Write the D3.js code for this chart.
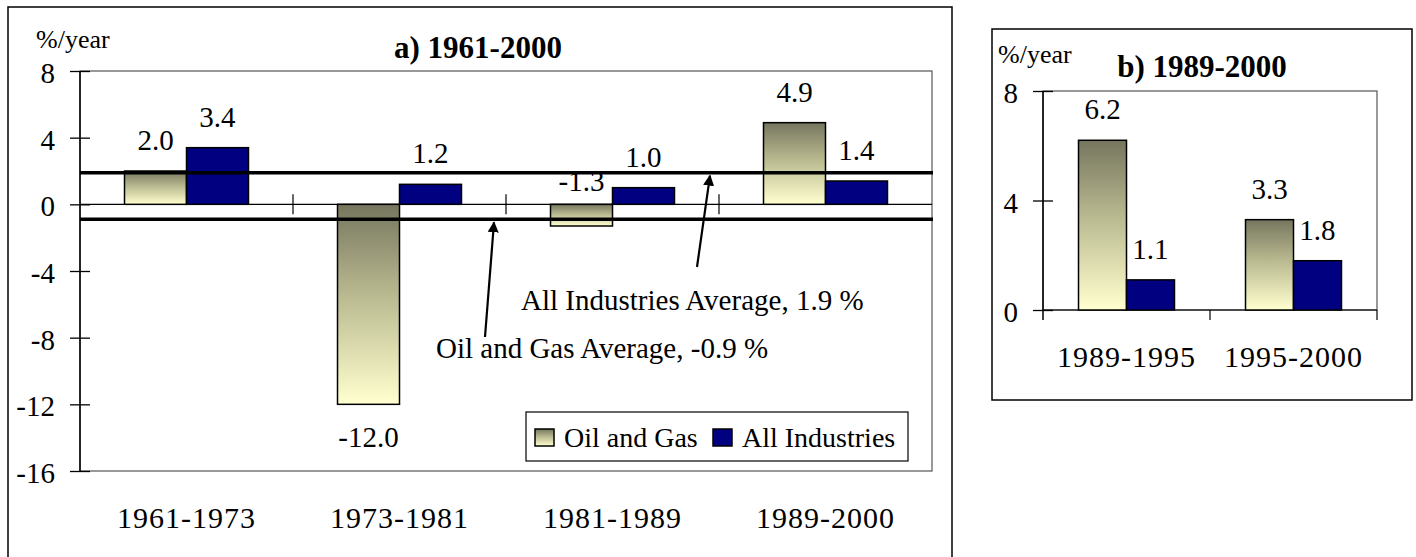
<!DOCTYPE html>
<meta charset="utf-8">
<style>
body { margin: 0; background: #fff; }
text { font-family: "Liberation Serif", "Times New Roman", serif; fill: #000; }
.ytick text { font-size: 29px; }
.xtick text { font-size: 30px; letter-spacing: 1px; }
.val { font-size: 29px; text-anchor: middle; }
.title { font-size: 31px; font-weight: bold; text-anchor: middle; }
.unit { font-size: 26px; }
.note { font-size: 29px; }
.leg { font-size: 28px; }
</style>
<body>
<script src="https://d3js.org/d3.v7.min.js"></script>
<script>

// data, panel a
var periodsA = ["1961-1973", "1973-1981", "1981-1989", "1989-2000"];
var oilGasA = [2.0, -12.0, -1.3, 4.9];
var allIndA = [3.4, 1.2, 1.0, 1.4];
var ticksA = [8, 4, 0, -4, -8, -12, -16];
var oilGasAvg = -0.9;
var allIndAvg = 1.9;

// data, panel b
var periodsB = ["1989-1995", "1995-2000"];
var oilGasB = [6.2, 3.3];
var allIndB = [1.1, 1.8];
var ticksB = [8, 4, 0];

var seriesNames = ["Oil and Gas", "All Industries"];

var svg = d3.select("body").append("svg")
    .attr("width", 1416)
    .attr("height", 557);

// gradient for the oil and gas bars
var grad = svg.append("defs").append("linearGradient")
    .attr("id", "oilgrad")
    .attr("x1", 0).attr("y1", 0).attr("x2", 0).attr("y2", 1);
grad.append("stop").attr("offset", "0%").attr("stop-color", "#76765f");
grad.append("stop").attr("offset", "45%").attr("stop-color", "#b9b990");
grad.append("stop").attr("offset", "100%").attr("stop-color", "#ffffcf");

svg.select("defs").append("marker")
    .attr("id", "arrow")
    .attr("viewBox", "0 0 10 10")
    .attr("refX", 9).attr("refY", 5)
    .attr("markerWidth", 5).attr("markerHeight", 5)
    .attr("orient", "auto")
  .append("path")
    .attr("d", "M0,0 L10,5 L0,10 z")
    .attr("fill", "#000");

var fills = ["url(#oilgrad)", "#000080"];

function panel(opt) {
  var g = svg.append("g");

  // outer frame
  g.append("rect")
      .attr("x", opt.frame[0]).attr("y", opt.frame[1])
      .attr("width", opt.frame[2]).attr("height", opt.frame[3])
      .attr("fill", "none").attr("stroke", "#000").attr("stroke-width", 1.5);

  var x = d3.scaleBand().domain(opt.periods).range([opt.left, opt.right]);
  var x1 = d3.scaleBand().domain([0, 1]).range([0, x.bandwidth()]).paddingOuter(opt.outer);
  var y = d3.scaleLinear().domain(opt.domain).range([opt.bottom, opt.top]);

  // plot area border
  g.append("rect")
      .attr("x", opt.left).attr("y", opt.top)
      .attr("width", opt.right - opt.left).attr("height", opt.bottom - opt.top)
      .attr("fill", "none").attr("stroke", "#555").attr("stroke-width", 1.2);

  // y axis
  var ya = g.append("g")
      .attr("class", "ytick")
      .attr("transform", "translate(" + opt.left + ",0)")
      .call(d3.axisLeft(y).tickValues(opt.ticks).tickSize(10).tickPadding(15).tickFormat(function(d) { return String(d); }));
  ya.select(".domain").remove();
  ya.selectAll(".tick line").attr("x1", 10).attr("stroke", "#000").attr("stroke-width", 1.3);
  ya.selectAll(".tick text").attr("dy", "0.4em");
  g.append("line")
      .attr("x1", opt.left).attr("x2", opt.left)
      .attr("y1", opt.top).attr("y2", opt.axisEnd)
      .attr("stroke", "#000").attr("stroke-width", 1.5);

  // zero line
  g.append("line")
      .attr("x1", opt.left).attr("x2", opt.right)
      .attr("y1", y(0)).attr("y2", y(0))
      .attr("stroke", "#000").attr("stroke-width", 1.2);

  // category boundary ticks
  var bounds = d3.range(opt.tickFrom, opt.periods.length + opt.tickTo).map(function(i) { return opt.left + i * x.step(); });
  g.selectAll(".btick").data(bounds).enter().append("line")
      .attr("x1", function(d) { return d; }).attr("x2", function(d) { return d; })
      .attr("y1", y(0) + opt.tickUp).attr("y2", y(0) + opt.tickDown)
      .attr("stroke", "#000").attr("stroke-width", 1.2);

  // category labels
  var xa = g.append("g")
      .attr("class", "xtick")
      .attr("transform", "translate(0," + opt.bottom + ")")
      .call(d3.axisBottom(x).tickSize(0).tickPadding(opt.labelPad));
  xa.select(".domain").remove();

  // bars
  var rows = opt.periods.map(function(p, i) { return {p: p, v: [opt.oil[i], opt.all[i]]}; });
  var grp = g.selectAll(".grp").data(rows).enter().append("g")
      .attr("transform", function(d) { return "translate(" + x(d.p) + ",0)"; });
  grp.selectAll("rect").data(function(d) { return d.v; }).enter().append("rect")
      .attr("x", function(d, i) { return x1(i); })
      .attr("width", x1.bandwidth())
      .attr("y", function(d) { return y(Math.max(0, d)); })
      .attr("height", function(d) { return Math.abs(y(d) - y(0)); })
      .attr("fill", function(d, i) { return fills[i]; })
      .attr("stroke", "#000").attr("stroke-width", 1.5);

  // averages go between bars and labels
  if (opt.extra) opt.extra(g, x, y);

  grp.selectAll(".val").data(function(d) { return d.v; }).enter().append("text")
      .attr("class", "val")
      .attr("x", function(d, i) { return x1(i) + x1.bandwidth() / 2; })
      .attr("y", function(d) {
        if (d >= 0) return y(d) - 21;
        if (d > -3) return y(0) - 13;
        return y(d) + 43;
      })
      .text(function(d) { return d.toFixed(1); });

  g.append("text").attr("class", "title")
      .attr("x", opt.titlePos[0]).attr("y", opt.titlePos[1]).text(opt.title);
  g.append("text").attr("class", "unit")
      .attr("x", opt.unitPos[0]).attr("y", opt.unitPos[1]).text("%/year");
}

panel({
  frame: [8, 7, 944, 570],
  periods: periodsA, oil: oilGasA, all: allIndA, ticks: ticksA,
  domain: [-16, 8], left: 80, right: 932, top: 71, bottom: 471, axisEnd: 471,
  outer: 0.718, tickFrom: 1, tickTo: 0, tickUp: -10, tickDown: 10, labelPad: 36,
  title: "a) 1961-2000", titlePos: [478, 58], unitPos: [36, 48],
  extra: function(g, x, y) {
    [allIndAvg, oilGasAvg].forEach(function(v) {
      g.append("line")
          .attr("x1", 80).attr("x2", 933)
          .attr("y1", y(v)).attr("y2", y(v))
          .attr("stroke", "#000").attr("stroke-width", 3.5);
    });
    // arrows and notes
    g.append("line")
        .attr("x1", 697).attr("y1", 267).attr("x2", 710).attr("y2", y(allIndAvg) + 3)
        .attr("stroke", "#000").attr("stroke-width", 2.2).attr("marker-end", "url(#arrow)");
    g.append("line")
        .attr("x1", 485).attr("y1", 337).attr("x2", 494).attr("y2", y(oilGasAvg) + 3)
        .attr("stroke", "#000").attr("stroke-width", 2.2).attr("marker-end", "url(#arrow)");
    g.append("text").attr("class", "note").attr("x", 521).attr("y", 310)
        .text("All Industries Average, " + allIndAvg.toFixed(1) + " %");
    g.append("text").attr("class", "note").attr("x", 436).attr("y", 358)
        .text("Oil and Gas Average, " + oilGasAvg.toFixed(1) + " %");

    // legend
    var lg = g.append("g").attr("transform", "translate(526,412)");
    lg.append("rect").attr("width", 382).attr("height", 49)
        .attr("fill", "#fff").attr("stroke", "#000").attr("stroke-width", 1.2);
    var offs = [9, 187];
    seriesNames.forEach(function(s, i) {
      lg.append("rect").attr("x", offs[i]).attr("y", 17).attr("width", 19).attr("height", 17)
          .attr("fill", fills[i]).attr("stroke", "#000").attr("stroke-width", 1.5);
      lg.append("text").attr("class", "leg").attr("x", offs[i] + 29).attr("y", 35).text(s);
    });
  }
});

panel({
  frame: [992, 29, 420, 371],
  periods: periodsB, oil: oilGasB, all: allIndB, ticks: ticksB,
  domain: [0, 8], left: 1043, right: 1377, top: 91, bottom: 310, axisEnd: 320,
  outer: 0.74, tickFrom: 1, tickTo: 1, tickUp: 0, tickDown: 10, labelPad: 36,
  title: "b) 1989-2000", titlePos: [1202, 77], unitPos: [998, 63]
});

</script>
</body>
